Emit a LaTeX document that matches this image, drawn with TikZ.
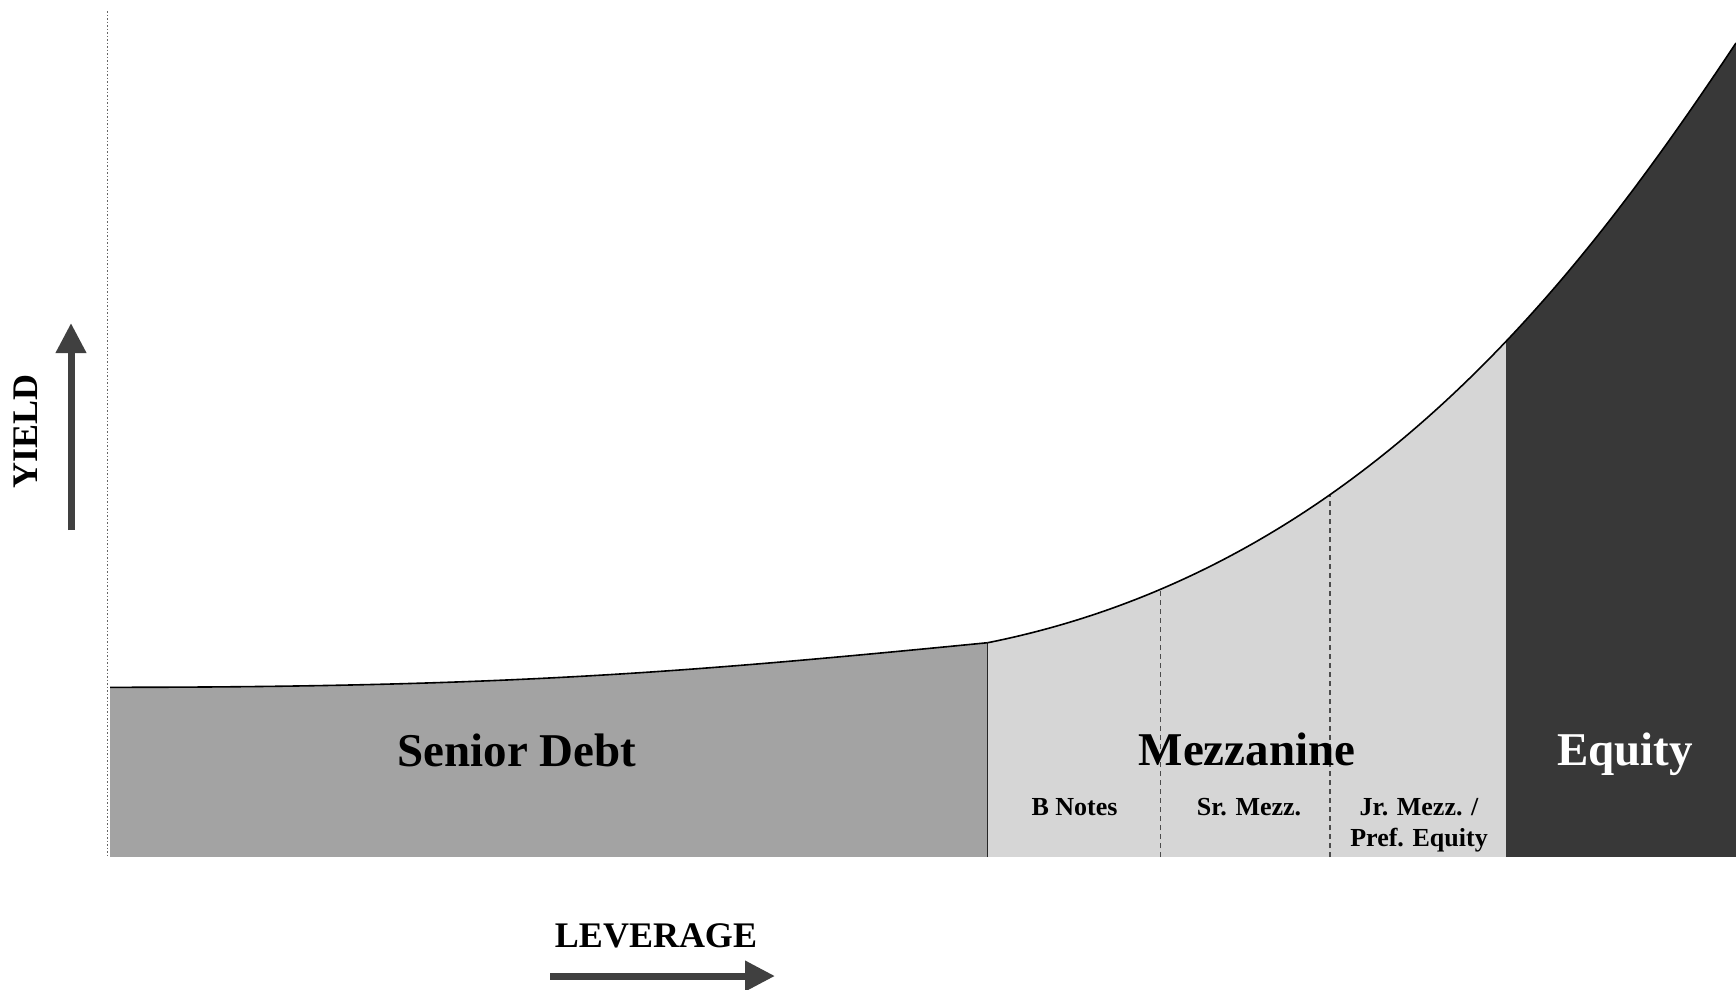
\documentclass[tikz,border=0pt]{standalone}
\usepackage{fontspec}
\setmainfont{Liberation Serif}
\usetikzlibrary{arrows.meta}
\definecolor{seniorfill}{gray}{0.64}
\definecolor{mezzfill}{gray}{0.84}
\definecolor{equityfill}{gray}{0.22}
\definecolor{arrowgray}{gray}{0.25}
\tikzset{
  lbl/.style={font=\bfseries\fontsize{47}{50}\selectfont, anchor=base, inner sep=0pt},
  sublbl/.style={font=\bfseries\fontsize{26}{31}\selectfont, anchor=base, inner sep=0pt},
  axislbl/.style={font=\bfseries\fontsize{36}{40}\selectfont, anchor=base, inner sep=0pt},
  bigarrow/.style={draw=arrowgray, line width=7pt, -{Triangle[length=30pt,width=29pt]}},
  curveline/.style={draw=black, line width=1.6pt},
  divider/.style={draw=black!85, line width=1.3pt},
  subdivider/.style={draw=black!70, line width=1.3pt, dash pattern=on 5pt off 4pt},
  axisline/.style={draw=black!60, line width=1pt, dash pattern=on 1.5pt off 2pt},
}
\begin{document}
\begin{tikzpicture}[x=1pt,y=-1pt]
\useasboundingbox (0,0) rectangle (1736,989);
% named points
\coordinate (axT) at (107,11);
\coordinate (axB) at (107,858);
\coordinate (bl) at (110,857);
\coordinate (br) at (1736,857);
\coordinate (c0) at (110,687.3);
\coordinate (c1) at (987.7,642.7);
\coordinate (c2) at (1736,43);
\coordinate (smB) at (987.7,857);
\coordinate (smT) at (987.7,600);
\coordinate (d1B) at (1160.7,857);
\coordinate (d1T) at (1160.7,450);
\coordinate (d2B) at (1330,857);
\coordinate (d2T) at (1330,350);
\coordinate (yS) at (71,530);
\coordinate (yE) at (71,323);
\coordinate (lS) at (550,976);
\coordinate (lE) at (775,976);

% vertical dotted axis
\draw[axisline] (axT) -- (axB);

% filled regions under the curve
\begin{scope}
  \clip (bl) -- (c0)
    .. controls (510,687.3) and (687.7,672) .. (c1)
    .. controls (1367.7,566.7) and (1586,268) .. (c2)
    -- (br) -- cycle;
  \fill[seniorfill] (110,0) rectangle (987.7,857);
  \fill[mezzfill] (987.7,0) rectangle (1506,857);
  \fill[equityfill] (1506,0) rectangle (1736,857);
  \draw[divider] (smB) -- (smT);
  \draw[subdivider] (d1B) -- (d1T);
  \draw[subdivider] (d2B) -- (d2T);
\end{scope}

% the yield curve
\draw[curveline] (c0) .. controls (510,687.3) and (687.7,672) .. (c1);
\draw[curveline] (c1) .. controls (1367.7,566.7) and (1586,268) .. (c2);

% labels
\node[lbl] (senior) at (517,766) {Senior Debt};
\node[lbl] (mezz) at (1247,765) {Mezzanine};
\node[lbl, text=white] (equity) at (1625,765) {Equity};
\node[sublbl] (bnotes) at (1074.5,815) {B Notes};
\node[sublbl] (srmezz) at (1249,815) {Sr. Mezz.};
\node[sublbl] (jrmezz) at (1419,815) {Jr. Mezz. /};
\node[sublbl] (pref) at (1419,846) {Pref. Equity};

% axis labels and arrows
\node[axislbl] (leverage) at (656,947) {LEVERAGE};
\node[axislbl, rotate=90] (yield) at (37,431) {YIELD};
\draw[bigarrow] (yS) -- (yE);
\draw[bigarrow] (lS) -- (lE);
\end{tikzpicture}
\end{document}
